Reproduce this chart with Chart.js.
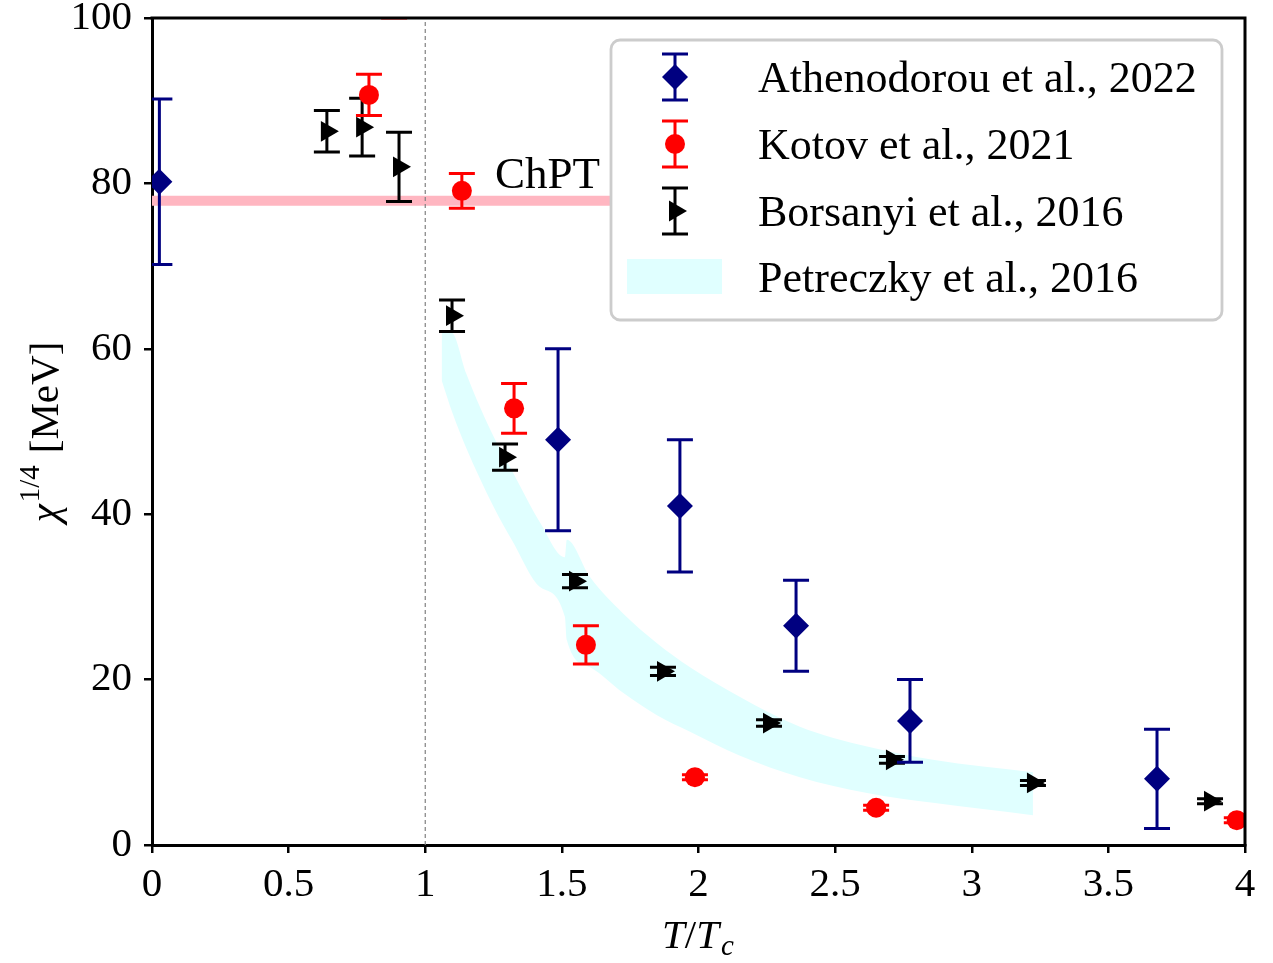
<!DOCTYPE html>
<html><head><meta charset="utf-8">
<script src="https://cdn.jsdelivr.net/npm/chart.js@4.4.0/dist/chart.umd.min.js"></script>
<style>html,body{margin:0;padding:0;background:#fff;}canvas{display:block;}</style>
</head><body>
<canvas id="c" width="1273" height="963"></canvas>
<script>
const SERIF = "'Liberation Serif', 'DejaVu Serif', serif";

// ---- data ----
const athX = [0.027, 1.486, 1.932, 2.357, 2.774, 3.678];
const athY = [80.2, 49.0, 41.0, 26.5, 15.0, 8.0];
const athErr = [10, 11, 8, 5.5, 5, 6];

const kotX = [0.794, 0.886, 1.134, 1.325, 1.588, 1.987, 2.65, 3.97];
const kotY = [90.7, 102.5, 79.1, 52.8, 24.2, 8.2, 4.5, 3.0];
const kotErr = [2.5, 2.5, 2.1, 3.0, 2.3, 0.3, 0.3, 0.3];

const borX = [0.64, 0.769, 0.904, 1.098, 1.292, 1.548, 1.87, 2.258, 2.708, 3.224, 3.872];
const borY = [86.3, 86.8, 82.0, 64.0, 46.9, 31.9, 21.0, 14.75, 10.3, 7.5, 5.3];
const borErr = [2.5, 3.5, 4.2, 1.9, 1.6, 0.8, 0.5, 0.4, 0.4, 0.3, 0.3];

const petX = [1.06, 1.10, 1.15, 1.25, 1.32, 1.42, 1.511, 1.518, 1.603, 1.724, 1.848, 1.969, 2.152, 2.371, 2.617, 2.858, 3.224];
const petUpper = [62.3, 61.9, 57.0, 49.4, 45.1, 39.0, 34.8, 36.9, 32.4, 28.0, 24.4, 21.5, 17.9, 14.3, 11.9, 10.3, 8.8];
const petLower = [56.2, 52.2, 48.0, 40.9, 36.7, 31.2, 27.6, 24.8, 21.5, 18.4, 15.7, 13.7, 10.8, 8.2, 6.3, 5.1, 3.6];

const chptX = [0, 1.676];
const chptY = [77.9, 77.9];
const tcX = [1, 1];
const tcY = [0, 100];

const xTickVals = [0, 0.5, 1, 1.5, 2, 2.5, 3, 3.5, 4];
const xTickLabels = ['0', '0.5', '1', '1.5', '2', '2.5', '3', '3.5', '4'];
const yTickVals = [0, 20, 40, 60, 80, 100];
const yTickLabels = ['0', '20', '40', '60', '80', '100'];

const seriesNames = ['Athenodorou et al., 2022', 'Kotov et al., 2021', 'Borsanyi et al., 2016', 'Petreczky et al., 2016'];

const pts = (xs, ys) => xs.map((x, i) => ({x, y: ys[i]}));

const NAVY = '#000080', RED = '#ff0000', BLACK = '#000000', CYAN = '#e0ffff', PINK = '#ffb6c1';

const errPlugin = {
  id: 'errbars',
  beforeDatasetDraw(chart, args) {
    const ds = chart.data.datasets[args.index];
    if (!ds.errors) return;
    const xs = chart.scales.x, ys = chart.scales.y, ca = chart.chartArea, ctx = chart.ctx;
    ctx.save();
    ctx.beginPath(); ctx.rect(ca.left, ca.top, ca.right - ca.left, ca.bottom - ca.top); ctx.clip();
    ctx.strokeStyle = ds.errColor; ctx.lineWidth = 3;
    ds.data.forEach((p, i) => {
      const e = ds.errors[i];
      const px = xs.getPixelForValue(p.x);
      const y1 = ys.getPixelForValue(p.y + e), y2 = ys.getPixelForValue(p.y - e);
      ctx.beginPath();
      ctx.moveTo(px, y1); ctx.lineTo(px, y2);
      ctx.moveTo(px - 13, y1); ctx.lineTo(px + 13, y1);
      ctx.moveTo(px - 13, y2); ctx.lineTo(px + 13, y2);
      ctx.stroke();
    });
    ctx.restore();
  }
};

function roundRect(ctx, x, y, w, h, r) {
  ctx.beginPath();
  ctx.moveTo(x + r, y); ctx.lineTo(x + w - r, y); ctx.arcTo(x + w, y, x + w, y + r, r);
  ctx.lineTo(x + w, y + h - r); ctx.arcTo(x + w, y + h, x + w - r, y + h, r);
  ctx.lineTo(x + r, y + h); ctx.arcTo(x, y + h, x, y + h - r, r);
  ctx.lineTo(x, y + r); ctx.arcTo(x, y, x + r, y, r);
  ctx.closePath();
}

const decoPlugin = {
  id: 'deco',
  afterDatasetsDraw(chart) {
    const ctx = chart.ctx, ca = chart.chartArea, xs = chart.scales.x, ys = chart.scales.y;
    ctx.save();
    // top and right spines
    ctx.strokeStyle = '#000'; ctx.lineWidth = 3;
    ctx.beginPath();
    ctx.moveTo(ca.left - 1.5, ca.top); ctx.lineTo(ca.right, ca.top); ctx.lineTo(ca.right, ca.bottom + 1.5);
    ctx.stroke();

    // ChPT label
    ctx.fillStyle = '#000';
    ctx.font = '45px ' + SERIF;
    ctx.textBaseline = 'alphabetic'; ctx.textAlign = 'left';
    ctx.fillText('ChPT', xs.getPixelForValue(1.255), ys.getPixelForValue(79.4));

    // legend
    const lx = 611, ly = 40, lw = 611, lh = 280;
    roundRect(ctx, lx, ly, lw, lh, 9);
    ctx.fillStyle = 'rgba(255,255,255,0.8)'; ctx.fill();
    ctx.strokeStyle = '#cccccc'; ctx.lineWidth = 2.8; ctx.stroke();
    const rows = [77, 144, 211, 277];
    const mx = 675;
    const styles = [
      {c: NAVY, ps: 'rectRot', r: 13, rot: 0},
      {c: RED, ps: 'circle', r: 10, rot: 0},
      {c: BLACK, ps: 'triangle', r: 12, rot: 90},
    ];
    styles.forEach((s, i) => {
      const cy = rows[i];
      ctx.strokeStyle = s.c; ctx.lineWidth = 3;
      ctx.beginPath();
      ctx.moveTo(mx, cy - 23); ctx.lineTo(mx, cy + 23);
      ctx.moveTo(mx - 13, cy - 23); ctx.lineTo(mx + 13, cy - 23);
      ctx.moveTo(mx - 13, cy + 23); ctx.lineTo(mx + 13, cy + 23);
      ctx.stroke();
      ctx.fillStyle = s.c;
      Chart.helpers.drawPoint(ctx, {pointStyle: s.ps, radius: s.r, rotation: s.rot, borderWidth: 0}, mx, cy);
    });
    ctx.fillStyle = CYAN;
    ctx.fillRect(627, 259, 95, 35);
    ctx.fillStyle = '#000';
    ctx.font = '44px ' + SERIF;
    seriesNames.forEach((n, i) => ctx.fillText(n, 758, rows[i] + 15));

    // y axis title: chi^{1/4} [MeV]
    ctx.save();
    ctx.translate(58, 432);
    ctx.rotate(-Math.PI / 2);
    const fBig = '41px ' + SERIF, fIt = 'italic 41px ' + SERIF, fSup = '29px ' + SERIF;
    ctx.font = fIt; const wChi = ctx.measureText('χ').width;
    ctx.font = fSup; const wSup = ctx.measureText('1/4').width;
    ctx.font = fBig; const wSp = 12; const wMev = ctx.measureText('[MeV]').width;
    const tot = wChi + 2 + wSup + wSp + wMev;
    let cx = -tot / 2;
    ctx.fillStyle = '#000';
    ctx.font = fIt; ctx.fillText('χ', cx, 0); cx += wChi + 2;
    ctx.font = fSup; ctx.fillText('1/4', cx, -19); cx += wSup + wSp;
    ctx.font = fBig; ctx.fillText('[MeV]', cx, 0);
    ctx.restore();

    // x axis title: T/T_c
    ctx.font = fIt; const wT = ctx.measureText('T').width;
    ctx.font = fBig; const wSl = ctx.measureText('/').width;
    ctx.font = 'italic 29px ' + SERIF; const wc = ctx.measureText('c').width;
    const totX = wT + wSl + wT + wc + 2;
    let xx = 698 - totX / 2; const by = 948;
    ctx.font = fIt; ctx.fillText('T', xx, by); xx += wT;
    ctx.font = fBig; ctx.fillText('/', xx, by); xx += wSl;
    ctx.font = fIt; ctx.fillText('T', xx, by); xx += wT + 2;
    ctx.font = 'italic 29px ' + SERIF; ctx.fillText('c', xx, by + 7);
    ctx.restore();
  }
};

const chart = new Chart(document.getElementById('c'), {
  type: 'scatter',
  data: {
    datasets: [
      {label: seriesNames[0], data: pts(athX, athY), errors: athErr, errColor: NAVY,
       pointStyle: 'rectRot', pointRadius: 13, backgroundColor: NAVY, borderColor: NAVY, borderWidth: 0, clip: 0, order: 1},
      {label: seriesNames[1], data: pts(kotX, kotY), errors: kotErr, errColor: RED,
       pointStyle: 'circle', pointRadius: 10, backgroundColor: RED, borderColor: RED, borderWidth: 0, clip: 0, order: 2},
      {label: seriesNames[2], data: pts(borX, borY), errors: borErr, errColor: BLACK,
       pointStyle: 'triangle', rotation: 90, pointRadius: 12, backgroundColor: BLACK, borderColor: BLACK, borderWidth: 0, clip: 0, order: 3},
      {type: 'line', label: 'Petreczky upper', data: pts(petX, petUpper), pointRadius: 0, borderWidth: 0,
       borderColor: 'rgba(0,0,0,0)', fill: false, clip: 0, order: 6, cubicInterpolationMode: 'monotone'},
      {type: 'line', label: seriesNames[3], data: pts(petX, petLower), pointRadius: 0, borderWidth: 0,
       borderColor: 'rgba(0,0,0,0)', backgroundColor: CYAN, fill: '-1', clip: 0, order: 5, cubicInterpolationMode: 'monotone'},
      {type: 'line', label: 'ChPT', data: pts(chptX, chptY), pointRadius: 0, borderWidth: 10,
       borderColor: PINK, fill: false, clip: 0, order: 8, borderCapStyle: 'butt'},
      {type: 'line', label: 'Tc', data: pts(tcX, tcY), pointRadius: 0, borderWidth: 1.2,
       borderColor: '#808080', borderDash: [4, 3], fill: false, clip: 0, order: 7},
    ]
  },
  options: {
    responsive: false,
    animation: false,
    events: [],
    layout: {padding: {left: 0, right: 28, top: 18, bottom: 0}},
    plugins: {legend: {display: false}, tooltip: {enabled: false}},
    scales: {
      x: {
        type: 'linear', min: 0, max: 4,
        afterBuildTicks: s => { s.ticks = xTickVals.map(v => ({value: v})); },
        afterFit: s => { s.height = 118; s.paddingLeft = 0; s.paddingRight = 0; },
        ticks: {callback: (v, i) => xTickLabels[i], font: {family: SERIF, size: 41, lineHeight: 1}, color: '#000',
                padding: 12, maxRotation: 0, autoSkip: false},
        grid: {drawOnChartArea: false, drawTicks: true, tickLength: 8, color: '#000', lineWidth: 2.5},
        border: {display: true, color: '#000', width: 3}
      },
      y: {
        type: 'linear', min: 0, max: 100,
        afterBuildTicks: s => { s.ticks = yTickVals.map(v => ({value: v})); },
        afterFit: s => { s.width = 152; s.paddingTop = 0; s.paddingBottom = 0; },
        ticks: {callback: (v, i) => yTickLabels[i], font: {family: SERIF, size: 41, lineHeight: 0.8}, color: '#000',
                padding: 12, autoSkip: false},
        grid: {drawOnChartArea: false, drawTicks: true, tickLength: 8, color: '#000', lineWidth: 2.5},
        border: {display: true, color: '#000', width: 3}
      }
    }
  },
  plugins: [errPlugin, decoPlugin]
});
</script>
</body></html>
